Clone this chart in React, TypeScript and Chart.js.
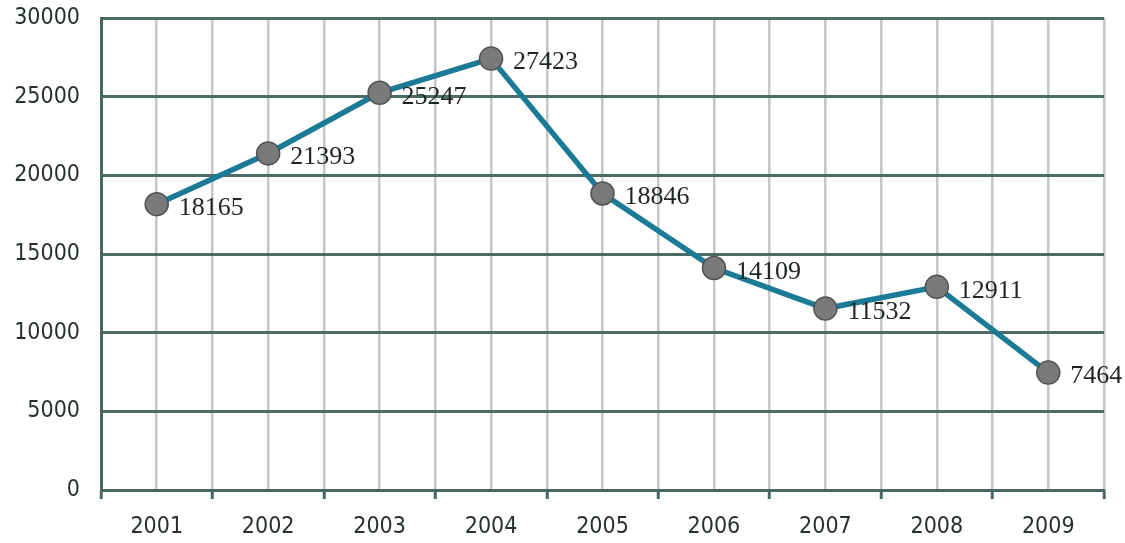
import React, { useEffect, useRef } from "react";
import { Chart, registerables } from "chart.js";

Chart.register(...registerables);

const categories = ["2001", "2002", "2003", "2004", "2005", "2006", "2007", "2008", "2009"];
const values = [18165, 21393, 25247, 27423, 18846, 14109, 11532, 12911, 7464];
const labelTexts = ["18165", "21393", "25247", "27423", "18846", "14109", "11532", "12911", "7464"];

const tickFont = "'DejaVu Sans Condensed', 'DejaVu Sans', sans-serif";

const labelPlugin = {
  id: "pointLabels",
  afterDatasetsDraw(chart: any) {
    const ctx = chart.ctx;
    const meta = chart.getDatasetMeta(0);
    ctx.save();
    ctx.font = "26px 'Liberation Serif', serif";
    ctx.fillStyle = "#1f2424";
    ctx.textAlign = "left";
    ctx.textBaseline = "middle";
    meta.data.forEach((pt: any, i: number) => {
      ctx.fillText(labelTexts[i], pt.x + 22, pt.y + 4);
    });
    ctx.restore();
  },
};

export default function App() {
  const ref = useRef<HTMLCanvasElement | null>(null);
  useEffect(() => {
    document.body.style.margin = "0";
    const chart = new Chart(ref.current as HTMLCanvasElement, {
      type: "line",
      data: {
        labels: categories,
        datasets: [
          {
            data: values,
            borderColor: "#1b7b97",
            borderWidth: 5.5,
            pointRadius: 11.5,
            pointBackgroundColor: "#77797a",
            pointBorderColor: "#4e5253",
            pointBorderWidth: 1.5,
            tension: 0,
            xAxisID: "x",
          },
        ],
      },
      options: {
        animation: false,
        responsive: false,
        maintainAspectRatio: false,
        layout: { padding: { top: 18, right: 21, left: 0, bottom: 0 } },
        plugins: { legend: { display: false }, tooltip: { enabled: false } },
        scales: {
          x: {
            type: "category",
            offset: true,
            grid: {
              offset: true,
              color: "#c3c7c7",
              lineWidth: 2.5,
              drawTicks: true,
              tickLength: 9,
              tickColor: "#4a6763",
              tickWidth: 3,
            },
            border: { display: true, color: "#4a6763", width: 3 },
            ticks: {
              font: { family: tickFont, size: 23 },
              color: "#26302f",
              padding: 14,
              maxRotation: 0,
            },
            afterFit(scale: any) {
              scale.height = 53;
              scale.paddingLeft = 0;
              scale.paddingRight = 0;
            },
          },
          x2: {
            type: "category",
            position: "bottom",
            offset: true,
            labels: categories,
            grid: { offset: false, color: "#c3c7c7", lineWidth: 2.5, drawTicks: false },
            border: { display: false },
            ticks: { display: false },
            afterFit(scale: any) {
              scale.height = 0;
            },
          },
          y: {
            min: 0,
            max: 30000,
            ticks: {
              stepSize: 5000,
              font: { family: tickFont, size: 23 },
              color: "#26302f",
              padding: 21,
              callback: (v: any) => String(v),
            },
            grid: { color: "#4a6b66", lineWidth: 3, drawTicks: false },
            border: { display: true, color: "#4a6763", width: 3 },
            afterFit(scale: any) {
              scale.width = 101;
              scale.paddingTop = 0;
              scale.paddingBottom = 0;
            },
          },
        },
      },
      plugins: [labelPlugin],
    });
    return () => chart.destroy();
  }, []);
  return (
    <div style={{ width: 1125, height: 543, background: "#fff" }}>
      <canvas ref={ref} width={1125} height={543} style={{ display: "block" }} />
    </div>
  );
}
